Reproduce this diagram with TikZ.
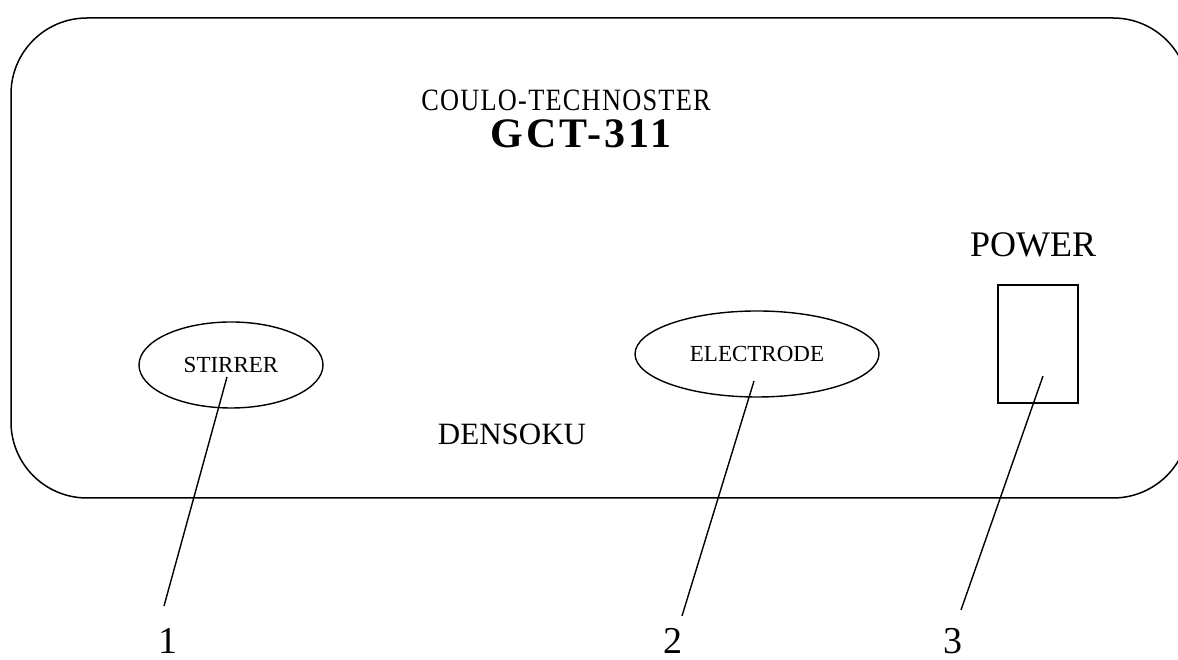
\documentclass[tikz,border=0pt]{standalone}
\usepackage{fontspec}
\setmainfont{Liberation Serif}
\usetikzlibrary{shapes.geometric,positioning}

\begin{document}
\begin{tikzpicture}[
  x=1pt, y=1pt,
  panel/.style={draw, line width=1.5pt, rounded corners=76pt},
  caption/.style={anchor=base, inner sep=0pt},
  knob/.style={draw, ellipse, line width=1.4pt, inner sep=0pt, font=\fontsize{23}{23}\selectfont},
  switchbox/.style={draw, rectangle, line width=1.4pt, minimum width=80pt, minimum height=118pt},
  lead/.style={line width=1.4pt},
  num/.style={anchor=base, inner sep=0pt, font=\fontsize{38}{38}\selectfont}
]
\useasboundingbox (0,0) rectangle (1178,660);
\clip (0,0) rectangle (1178,660);
\draw[panel] (11,162) rectangle (1189,642);

\node[caption, font=\fontsize{31}{31}\selectfont\addfontfeatures{FakeStretch=0.85,LetterSpace=4}] (maker) at (566,549) {COULO-TECHNOSTER};
\node[caption, font=\fontsize{42}{42}\selectfont\bfseries\addfontfeatures{LetterSpace=8}] (model) at (581,512) {GCT-311};
\node[caption, font=\fontsize{31}{31}\selectfont] (brand) at (512,215) {DENSOKU};
\node[caption, font=\fontsize{36}{36}\selectfont] (powerlabel) at (1033,403) {POWER};

\node[knob, minimum width=184pt, minimum height=86pt] (stirrer) at (231,295) {STIRRER};
\node[knob, minimum width=244pt, minimum height=86pt] (electrode) at (757,306) {ELECTRODE};
\node[switchbox] (power) at (1038,316) {};

\coordinate (s1) at (227,283);
\coordinate (s2) at (754,279);
\coordinate (s3) at (1043,284);
\coordinate (e1) at (164,54);
\coordinate (e2) at (682,44);
\coordinate (e3) at (961,50);

\draw[lead] (s1) -- (e1);
\draw[lead] (s2) -- (e2);
\draw[lead] (s3) -- (e3);

\node[num] (n1) at (168,6) {1};
\node[num] (n2) at (673,6) {2};
\node[num] (n3) at (953,6) {3};
\end{tikzpicture}
\end{document}
